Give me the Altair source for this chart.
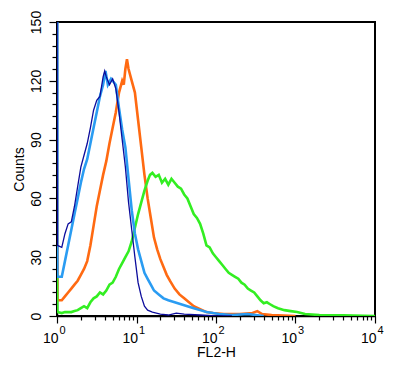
import altair as alt
import pandas as pd

# log10(FL2-H) positions and counts for each histogram
NAVY_LOG = [0.0, 0.005, 0.06, 0.10, 0.14, 0.18, 0.22, 0.26, 0.30, 0.34, 0.38, 0.42, 0.46, 0.50, 0.54, 0.58, 0.60, 0.62, 0.66, 0.70, 0.74, 0.78, 0.82, 0.86, 0.90, 0.94, 0.98, 1.02, 1.06, 1.10, 1.14, 1.20, 1.30, 1.40, 1.50, 1.60, 1.80, 2.00, 2.20]
NAVY_CNT = [170, 36, 35, 42, 47, 48, 56, 66, 76, 82, 88, 96, 105, 110, 112, 122, 125, 122, 118, 121, 116, 104, 90, 76, 58, 44, 30, 17, 10, 5, 3, 2, 1, 0.5, 1.5, 1, 0.5, 0, 0]

LBLUE_LOG = [0.0, 0.005, 0.06, 0.10, 0.14, 0.18, 0.22, 0.26, 0.30, 0.34, 0.38, 0.42, 0.46, 0.50, 0.54, 0.58, 0.61, 0.64, 0.68, 0.72, 0.74, 0.78, 0.82, 0.86, 0.90, 0.94, 0.98, 1.02, 1.06, 1.10, 1.14, 1.18, 1.22, 1.28, 1.34, 1.40, 1.48, 1.56, 1.64, 1.72, 1.80, 1.88, 1.96, 2.04, 2.20, 2.40, 2.60]
LBLUE_CNT = [400, 20, 20, 28, 36, 44, 52, 60, 68, 75, 80, 88, 96, 104, 112, 118, 125, 118, 121, 119, 118, 106, 95, 86, 70, 54, 42, 34, 28, 22, 19, 16, 13, 11, 9, 8, 7, 6, 5, 4, 3, 2, 1.5, 1, 0.5, 1, 0]

ORANGE_LOG = [0.0, 0.005, 0.06, 0.10, 0.14, 0.18, 0.22, 0.26, 0.30, 0.34, 0.38, 0.42, 0.46, 0.50, 0.54, 0.58, 0.62, 0.66, 0.70, 0.74, 0.78, 0.82, 0.84, 0.86, 0.88, 0.90, 0.94, 0.98, 1.02, 1.06, 1.10, 1.14, 1.18, 1.22, 1.26, 1.30, 1.34, 1.38, 1.42, 1.48, 1.54, 1.60, 1.66, 1.72, 1.80, 1.88, 1.96, 2.10, 2.30, 2.46, 2.52, 2.58, 2.70, 3.00]
ORANGE_CNT = [78, 8, 8, 10, 12, 14, 16, 18, 21, 24, 28, 36, 46, 56, 64, 72, 79, 88, 96, 104, 114, 120, 118, 126, 131, 126, 120, 114, 100, 86, 72, 60, 50, 40, 34, 29, 25, 21, 18, 14, 11, 9, 7, 5, 3.5, 2, 1.5, 1, 1, 1.5, 2.5, 1, 0.5, 0]

GREEN_LOG = [0.0, 0.005, 0.06, 0.10, 0.14, 0.18, 0.22, 0.26, 0.30, 0.34, 0.38, 0.42, 0.46, 0.50, 0.54, 0.58, 0.62, 0.66, 0.70, 0.74, 0.78, 0.82, 0.86, 0.90, 0.94, 0.98, 1.02, 1.06, 1.10, 1.14, 1.17, 1.20, 1.24, 1.28, 1.32, 1.36, 1.40, 1.44, 1.48, 1.52, 1.56, 1.60, 1.64, 1.68, 1.72, 1.76, 1.80, 1.84, 1.88, 1.92, 1.96, 2.00, 2.04, 2.08, 2.12, 2.16, 2.20, 2.24, 2.28, 2.32, 2.36, 2.40, 2.44, 2.48, 2.52, 2.56, 2.60, 2.64, 2.68, 2.72, 2.78, 2.86, 2.94, 3.02, 3.12, 3.30, 3.60, 4.00]
GREEN_CNT = [22, 2, 1.5, 2, 2, 2, 2.5, 3, 4, 5, 4, 7, 9, 10, 12, 11, 13, 16, 17, 20, 24, 27, 30, 33, 38, 45, 52, 58, 64, 69, 72, 73, 71, 72, 68, 70, 67, 70, 68, 66, 65, 62, 60, 56, 52, 50, 47, 42, 36, 35, 32, 30, 28, 26, 24, 22, 21, 20, 19, 17, 16, 14, 13, 12, 10, 8, 6.5, 7, 6, 5, 4, 3, 2.5, 2, 1, 0.5, 0.3, 0]

SERIES = [
    ("orange", ORANGE_LOG, ORANGE_CNT, "#ff6a12", 2.6),
    ("green", GREEN_LOG, GREEN_CNT, "#33ee22", 2.6),
    ("lightblue", LBLUE_LOG, LBLUE_CNT, "#2a9cf2", 2.6),
    ("navy", NAVY_LOG, NAVY_CNT, "#0c0c9c", 1.3),
]

X_TICKS = [1, 2, 3, 4, 5, 6, 7, 8, 9,
           10, 20, 30, 40, 50, 60, 70, 80, 90,
           100, 200, 300, 400, 500, 600, 700, 800, 900,
           1000, 2000, 3000, 4000, 5000, 6000, 7000, 8000, 9000, 10000]
Y_TICKS = list(range(0, 151, 6))
DECADES = [1, 10, 100, 1000, 10000]
BASES = ["10", "10", "10", "10", "10"]
EXPONENTS = ["0", "1", "2", "3", "4"]

FONT = "Liberation Sans"
W, H = 318, 294

x_scale = alt.Scale(type="log", domain=[1, 10000])
y_scale = alt.Scale(domain=[0, 150])

x_axis = alt.Axis(
    values=X_TICKS,
    title="FL2-H",
    labels=False,
    titleFont=FONT, titleFontSize=14, titleFontWeight="normal", titleColor="black", titlePadding=22,
    tickSize={"condition": {"test": "indexof([1,10,100,1000,10000], datum.value) >= 0", "value": 7}, "value": 4},
    tickColor="black", tickWidth=1.2,
    domainColor="black", domainWidth=1.5, grid=False,
)
y_axis = alt.Axis(
    values=Y_TICKS,
    title="Counts",
    labelExpr="datum.value % 30 == 0 ? datum.label : ''",
    labelOverlap=False,
    labelAngle=270,
    labelFont=FONT, labelFontSize=14, labelColor="black", labelPadding=6,
    titleFont=FONT, titleFontSize=14, titleFontWeight="normal", titleColor="black", titlePadding=3,
    tickSize={"condition": {"test": "datum.value % 30 == 0", "value": 8}, "value": 5},
    tickColor="black", tickWidth=1.2,
    domainColor="black", domainWidth=1.5, grid=False,
)

layers = []
for name, logs, cnts, color, width in SERIES:
    df = pd.DataFrame({"x": [10 ** v for v in logs], "count": cnts})
    layers.append(
        alt.Chart(df).mark_line(color=color, strokeWidth=width, interpolate="linear", clip=True).encode(
            x=alt.X("x:Q", scale=x_scale, axis=x_axis),
            y=alt.Y("count:Q", scale=y_scale, axis=y_axis),
        )
    )

lab_df = pd.DataFrame({"x": DECADES, "base": BASES, "exp": EXPONENTS})
base_txt = alt.Chart(lab_df).mark_text(
    font=FONT, fontSize=14, color="black", align="right", baseline="top", dx=1.5
).encode(
    x=alt.X("x:Q", scale=x_scale, axis=x_axis),
    y=alt.value(H + 15.5),
    text="base:N",
)
sup_txt = alt.Chart(lab_df).mark_text(
    font=FONT, fontSize=11, color="black", align="left", baseline="top", dx=2.5
).encode(
    x=alt.X("x:Q", scale=x_scale, axis=x_axis),
    y=alt.value(H + 9),
    text="exp:N",
)
layers += [base_txt, sup_txt]

chart = alt.layer(*layers).properties(
    width=W, height=H,
    autosize=alt.AutoSizeParams(type="none"),
    padding={"left": 49, "top": 14, "right": 20, "bottom": 44},
    background="white",
).configure_view(stroke="black", strokeWidth=2)

chart.save("out.html", embed_options={"renderer": "svg", "actions": False})
